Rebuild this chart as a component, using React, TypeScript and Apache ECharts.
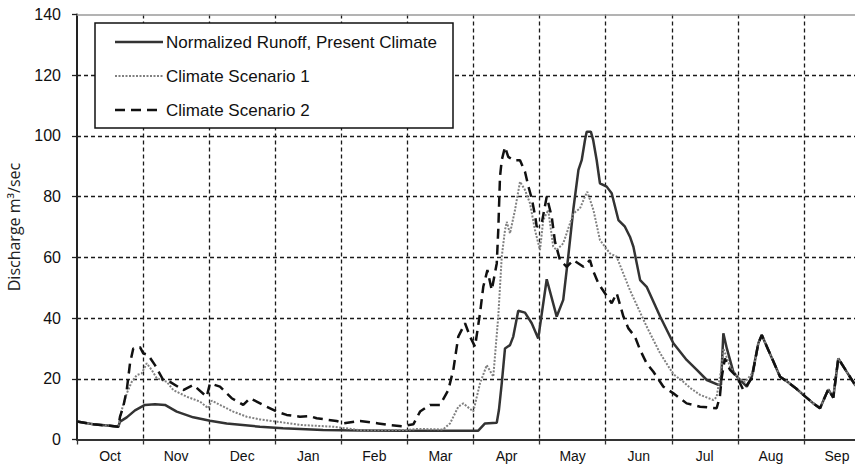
import React, { useEffect, useRef } from "react";
import * as echarts from "echarts";

// Water year months (Oct .. Sep)
const months = ["Oct", "Nov", "Dec", "Jan", "Feb", "Mar", "Apr", "May", "Jun", "Jul", "Aug", "Sep"];

// Day of water year (0 = 1 Oct) and discharge (m3/sec)
const runoffDays = [
  0, 7.5, 15.2, 19, 19.8, 22.9, 26.7, 31.3, 35.9, 40.5, 45.9, 53.5, 61.2, 68.9, 84.2, 94.8,
  113.2, 130, 150, 170, 184.7, 187.8, 193.2, 194.2, 195.5, 197, 199.3, 200.8, 203.1, 206.2,
  209.3, 212.3, 216.2, 220.8, 223.8, 226.1, 228.5, 230.8, 232.3, 233.8, 234.6, 236.5, 237.6,
  239.2, 240.7, 243.8, 246.1, 249.2, 252.2, 254.5, 256.1, 259.2, 262.2, 268.4, 274.5, 280.6,
  285.3, 289.9, 295.2, 296.4, 297.5, 299.1, 302.1, 304.4, 308.3, 310.6, 313.6, 315.2, 318.2,
  323.6, 327, 331, 334.3, 338.9, 342, 344.3, 345.8, 348.1, 350.4, 354.3, 358.1, 362,
];
const runoffValues = [
  5.9, 5.0, 4.5, 4.2, 5.9, 7.3, 9.6, 11.4, 11.6, 11.4, 9.2, 7.3, 6.2, 5.3, 4.2, 3.7,
  3.1, 3.0, 2.9, 2.9, 2.9, 5.3, 5.5, 9.7, 18.5, 30, 31.1, 33.9, 42.4, 41.8,
  38.3, 33.3, 52.8, 40.5, 46, 60.2, 76.1, 88.8, 92, 98.6, 101.4, 101.4, 98.6,
  92, 84.4, 83.3, 81.1, 72.3, 70.1, 66.8, 63.5, 52.5, 50.3, 40.5, 31.7, 26.2,
  22.9, 19.6, 18, 18, 35, 30, 22.3, 20.2, 17.4, 20.7, 31.7, 34.4, 29.5,
  20.7, 19, 16.8, 14.7, 11.9, 10.3, 14.1, 16.5, 13.8, 26.7, 22.3, 18, 15.5,
];

const scen1Days = [
  0, 7.5, 15.2, 19, 20.6, 22.9, 25.2, 27.5, 29.8, 32.1, 34.4, 36.7, 41.3, 44.3, 50.5, 56.6,
  60.4, 62, 65.8, 71.9, 78.1, 84.2, 88.8, 102.6, 118, 130.3, 151.8, 156.4, 168.5, 171.7,
  175.5, 177.8, 182.4, 185.5, 188.6, 191.6, 193.9, 195.5, 197, 197.8, 199.3, 201.6, 203.9,
  206.2, 208.5, 210.8, 213.1, 214.6, 216.9, 219.2, 220.8, 223.8, 228.5, 231.5, 233.8, 234.9,
  237.7, 240.7, 245.3, 248.4, 254.5, 262.2, 268.4, 274.5, 279.1, 282.2, 286.8, 292.9, 294.4,
  296.7, 297.5, 300.6, 304.4, 307.5, 311.3, 313.6, 315.2, 318.2, 323.6, 327, 331, 334.3,
  338.9, 342, 344.3, 345.8, 348.1, 350.4, 354.3, 358.1, 362,
];
const scen1Values = [
  5.9, 5.0, 4.5, 4.2, 9.7, 15.2, 19, 21.2, 21.8, 25.1, 22.9, 20.2, 19, 16.3, 14.1, 12.5,
  10.3, 12.8, 11.4, 9.2, 7.5, 6.6, 6.2, 4.8, 4.2, 3.1, 3.1, 3.5, 3.3, 5.3,
  10.8, 11.9, 9.2, 18.5, 24.5, 20.7, 40.5, 60.2, 69, 71.7, 67.9, 75.6, 84.9,
  82.2, 77.8, 69, 62.4, 72.3, 75.6, 63.5, 62.4, 64.6, 74.5, 76.1, 80, 81.6,
  75.6, 65.7, 61.3, 60.2, 49.2, 37.2, 28.4, 21.5, 19, 17, 14.7, 13, 14,
  24, 30, 24, 20.2, 19, 22.3, 31.7, 34.4, 29.5, 20.7, 19, 16.8, 14.7,
  11.9, 10.3, 14.1, 16.5, 13.8, 26.7, 22.3, 18, 15.5,
];

const scen2Days = [
  0, 7.5, 15.2, 19, 19.8, 21.3, 22.9, 24.4, 25.9, 29, 30.5, 32.8, 35.9, 39.7, 42.8, 48.9,
  53.5, 59.7, 61.2, 65.8, 71.2, 76.5, 79.6, 82.7, 87.3, 91.9, 96.5, 102.6, 107.3, 110.3,
  119.5, 122.6, 130.3, 138.7, 143.3, 149.5, 154.8, 157.9, 162.5, 167.1, 170.9, 173.2, 175.5,
  178.6, 180.9, 183.2, 185.5, 187, 188.9, 190.9, 193.2, 193.9, 194.7, 195.5, 197, 198.5,
  200.8, 203.9, 206.2, 207.8, 209.3, 210.8, 211.6, 213.9, 216.2, 218.5, 220, 222.3, 225.4,
  228.5, 233.1, 236.1, 237.7, 240, 243, 246.1, 248.4, 251.5, 253.8, 256.8, 259.2, 262.2,
  265.3, 269.9, 274.5, 280.6, 286.8, 294.4, 295.9, 296.7, 298.2, 300.6, 303.7, 306.7, 310.6,
  313.6, 315.2, 318.2, 323.6, 327, 331, 334.3, 338.9, 342, 344.3, 345.8, 348.1, 350.4, 354.3,
  358.1, 362,
];
const scen2Values = [
  5.9, 5.0, 4.5, 4.2, 7.5, 10.8, 16.3, 25.1, 30, 30.4, 28.4, 27.8, 24.5, 19.6, 19, 16.3,
  18, 14.1, 18.5, 17.4, 13.6, 11.4, 13.6, 12.5, 10.8, 9.2, 8.1, 7.5, 7.7, 7.0,
  6.1, 5.3, 6.1, 5.3, 4.8, 4.4, 5.0, 9.2, 11.4, 11.4, 16.3, 22.9, 33.9,
  38.3, 33.9, 30.6, 41.6, 50.3, 55.8, 49.2, 58, 69, 86.6, 92, 96.4, 93.1,
  92, 92, 88.2, 83.3, 79.4, 73.9, 70.1, 71.2, 80, 73.4, 65.2, 59.1, 56.9,
  59.1, 56.9, 59.1, 55.3, 51.4, 48.2, 44.9, 48.2, 40.5, 36.6, 33.9, 29.5, 25.1,
  22.3, 17.4, 15.2, 11.9, 10.8, 10.3, 14.1, 20.2, 26.7, 22.9, 20.7, 16.3, 20.2,
  31.7, 34.4, 29.5, 20.7, 19, 16.8, 14.7, 11.9, 10.3, 14.1, 16.5, 13.8, 26.7, 22.3,
  18, 15.5,
];

const seriesNames = [
  "Normalized Runoff, Present Climate",
  "Climate Scenario 1",
  "Climate Scenario 2",
];

const lineStyles = [
  { color: "#333", width: 2.5, type: "solid" as any },
  { color: "#808080", width: 2, type: [2, 1.5] as any },
  { color: "#111", width: 2.5, type: [10, 6] as any },
];

const pairs = (d: number[], v: number[]) => d.map((x, i) => [x, v[i]]);

export default function App() {
  const ref = useRef<HTMLDivElement>(null);
  useEffect(() => {
    if (!ref.current) return;
    const chart = echarts.init(ref.current, null, { renderer: "svg" });
    const narrow = "'Liberation Sans Narrow', 'Arial Narrow', 'Liberation Sans', Arial, sans-serif";
    const gridDash = { color: "#1a1a1a", width: 1.3, type: [4, 3] as number[] };

    // Boxed legend (layout only)
    const legendX = 95;
    const legendY = 23;
    const rowY = [42, 76, 110];
    const legendGraphic: any[] = [
      {
        type: "rect",
        z: 100,
        shape: { x: legendX, y: legendY, width: 358, height: 105 },
        style: { fill: "#ffffff", stroke: "#111", lineWidth: 1.5 },
      },
    ];
    seriesNames.forEach((name, i) => {
      const ls = lineStyles[i];
      legendGraphic.push({
        type: "line",
        z: 101,
        shape: { x1: 115, y1: rowY[i], x2: 163, y2: rowY[i] },
        style: {
          stroke: ls.color,
          lineWidth: ls.width,
          lineDash: Array.isArray(ls.type) ? ls.type : null,
        },
      });
      legendGraphic.push({
        type: "text",
        z: 101,
        x: 166,
        y: rowY[i],
        style: {
          text: name,
          fontFamily: "'Liberation Sans', Arial, sans-serif",
          fontSize: 17,
          fill: "#111",
          verticalAlign: "middle",
          align: "left",
        },
      });
    });

    chart.setOption({
      animation: false,
      backgroundColor: "#ffffff",
      grid: {
        left: 77,
        top: 14.5,
        right: -15,
        bottom: 28.5,
        containLabel: false,
        outerBoundsMode: "none",
      },
      graphic: legendGraphic,
      xAxis: [
        {
          type: "value",
          min: 0,
          max: 365,
          position: "top",
          axisLine: { show: true, onZero: false, lineStyle: { color: "#9a9a9a", width: 1.5 } },
          axisTick: { show: false },
          axisLabel: { show: false },
          splitLine: { show: false },
        },
        {
          type: "category",
          data: months,
          position: "bottom",
          boundaryGap: true,
          axisLine: { show: true, onZero: false, lineStyle: { color: "#333", width: 2 } },
          axisTick: { show: true, interval: 0, length: 5, lineStyle: { color: "#333", width: 1.3 } },
          axisLabel: { interval: 0, margin: 9, fontFamily: narrow, fontSize: 14, color: "#111" },
          splitLine: { show: true, interval: 0, showMinLine: false, lineStyle: gridDash },
        },
      ],
      yAxis: {
        type: "value",
        min: 0,
        max: 140,
        interval: 20,
        name: "Discharge m³/sec",
        nameLocation: "middle",
        nameRotate: 90,
        nameGap: 55,
        nameTextStyle: { fontFamily: "'Open Sans', sans-serif", fontSize: 16, color: "#222" },
        axisLine: { show: true, onZero: false, lineStyle: { color: "#222", width: 2 } },
        axisTick: { show: true, length: 5, lineStyle: { color: "#222", width: 1.3 } },
        axisLabel: { margin: 16, fontFamily: narrow, fontSize: 16, color: "#111" },
        splitLine: { show: true, showMinLine: false, showMaxLine: false, lineStyle: gridDash },
      },
      series: [
        {
          name: seriesNames[0],
          type: "line",
          xAxisIndex: 0,
          data: pairs(runoffDays, runoffValues),
          showSymbol: false,
          symbol: "none",
          lineStyle: lineStyles[0],
          z: 3,
        },
        {
          name: seriesNames[1],
          type: "line",
          xAxisIndex: 0,
          data: pairs(scen1Days, scen1Values),
          showSymbol: false,
          symbol: "none",
          lineStyle: lineStyles[1],
          z: 4,
        },
        {
          name: seriesNames[2],
          type: "line",
          xAxisIndex: 0,
          data: pairs(scen2Days, scen2Values),
          showSymbol: false,
          symbol: "none",
          lineStyle: lineStyles[2],
          z: 5,
        },
      ],
    });
    return () => chart.dispose();
  }, []);
  return (
    <div
      ref={ref}
      style={{ position: "absolute", left: 0, top: 0, width: 855, height: 468, background: "#fff" }}
    />
  );
}
